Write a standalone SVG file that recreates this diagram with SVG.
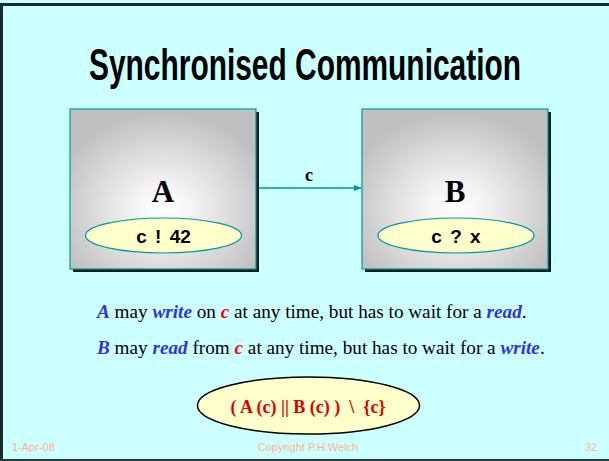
<svg xmlns="http://www.w3.org/2000/svg" width="609" height="461" viewBox="0 0 609 461">
<defs>
<radialGradient id="boxGrad" cx="50%" cy="62%" r="60%" fx="50%" fy="62%">
<stop offset="0" stop-color="#ffffff"/>
<stop offset="0.25" stop-color="#f4f4f4"/>
<stop offset="1" stop-color="#c0c0c0"/>
</radialGradient>
<marker id="arrow" markerWidth="8" markerHeight="6" refX="7" refY="3" orient="auto" markerUnits="userSpaceOnUse">
<path d="M0,0 L8,3 L0,6 z" fill="#009999"/>
</marker>
</defs>
<style>
.box{fill:url(#boxGrad);stroke:#009999;stroke-width:1.2}
.shadow{fill:#1a1a1a}
.oval{fill:#ffffcc;stroke:#009999;stroke-width:1.2}
.big{font-family:"Liberation Serif","Times New Roman",serif;font-weight:bold;font-size:31px;fill:#000;text-anchor:middle}
.code{font-family:"Liberation Sans",Arial,sans-serif;font-weight:bold;font-size:19px;word-spacing:3px;fill:#000;text-anchor:middle}
.body{font-family:"Liberation Serif","Times New Roman",serif;font-size:19.2px;fill:#000}
.em{font-weight:bold;font-style:italic;fill:#3333dd}
.red{font-weight:bold;font-style:italic;fill:#ff0000}
.foot{font-family:"Liberation Sans",Arial,sans-serif;font-size:11px;fill:#ffb38a}
</style>
<rect x="0" y="0" width="609" height="461" fill="#ccffff"/>
<path d="M1.5,461 V4.5 H609" fill="none" stroke="#1a2a2a" stroke-width="3"/>
<line x1="0" y1="460" x2="609" y2="460" stroke="#2a3a3a" stroke-width="2"/>
<text x="305" y="80" font-family="'Liberation Sans Narrow','Arial Narrow','Liberation Sans',sans-serif" font-weight="bold" font-size="44" text-anchor="middle" textLength="432" lengthAdjust="spacingAndGlyphs" fill="#000">Synchronised Communication</text>
<g id="connectors">
<line x1="256" y1="188" x2="361" y2="188" stroke="#009999" stroke-width="1.5" marker-end="url(#arrow)"/>
<text x="309" y="181" class="big" style="font-size:18px">c</text>
</g>
<g id="nodeA">
<rect class="shadow" x="73" y="112" width="186" height="160"/>
<rect class="box" x="70" y="109" width="186" height="160"/>
<text class="big" x="163" y="202">A</text>
<ellipse class="oval" cx="163.5" cy="235.5" rx="78" ry="17.5"/>
<text class="code" x="163.5" y="242.5">c ! 42</text>
</g>
<g id="nodeB">
<rect class="shadow" x="365" y="112" width="186" height="160"/>
<rect class="box" x="362" y="109" width="186" height="160"/>
<text class="big" x="455" y="202">B</text>
<ellipse class="oval" cx="456" cy="235.5" rx="78" ry="17.5"/>
<text class="code" x="456" y="242.5">c ? x</text>
</g>
<text class="body" x="97" y="318"><tspan class="em">A</tspan> may <tspan class="em">write</tspan> on <tspan class="red">c</tspan> at any time, but has to wait for a <tspan class="em">read</tspan>.</text>
<text class="body" x="97" y="354"><tspan class="em">B</tspan> may <tspan class="em">read</tspan> from <tspan class="red">c</tspan> at any time, but has to wait for a <tspan class="em">write</tspan>.</text>
<g id="expr">
<ellipse cx="308.5" cy="405.5" rx="111" ry="28.5" fill="#ffffcc" stroke="#000" stroke-width="1.5"/>
<text x="308" y="413" font-family="'Liberation Serif','Times New Roman',serif" font-weight="bold" font-size="18" fill="#dd0000" text-anchor="middle" xml:space="preserve">( A (c) || B (c) )  \  {c}</text>
</g>
<text class="foot" x="12" y="451">1-Apr-08</text>
<text class="foot" x="308" y="451" text-anchor="middle">Copyright P.H.Welch</text>
<text class="foot" x="597" y="451" text-anchor="end">32</text>
</svg>
